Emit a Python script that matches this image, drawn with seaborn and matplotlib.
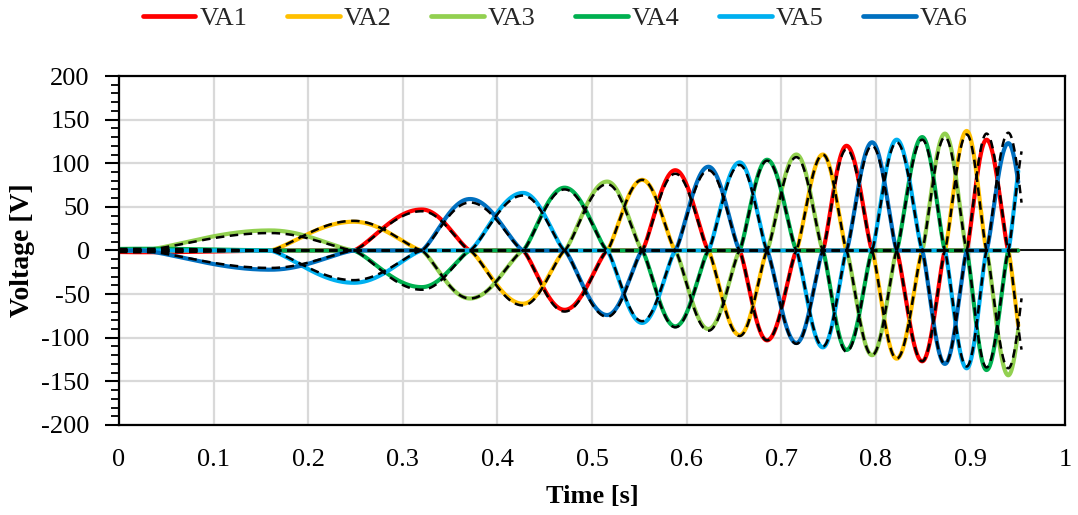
import numpy as np
import pandas as pd
import matplotlib
matplotlib.use("Agg")
import matplotlib.pyplot as plt
import seaborn as sns
from matplotlib.ticker import MultipleLocator

# Phase names and colours
phases = ["VA1", "VA2", "VA3", "VA4", "VA5", "VA6"]
colors = ["#FF0000", "#FFC000", "#92D050", "#00B050", "#00B0F0", "#0070C0"]

# Commutation steps: time of each lobe peak [s]
step_time = [-0.060, 0.025, 0.160, 0.248, 0.320, 0.371, 0.427, 0.471, 0.516,
             0.553, 0.588, 0.623, 0.656, 0.685, 0.716, 0.744, 0.769, 0.796,
             0.822, 0.849, 0.873, 0.896, 0.917, 0.940, 0.961, 0.982]
# Phase carrying the positive lobe / negative lobe at each step
pos_phase = ["VA5", "VA4", "VA3", "VA2", "VA1", "VA6", "VA5", "VA4", "VA3",
             "VA2", "VA1", "VA6", "VA5", "VA4", "VA3", "VA2", "VA1", "VA6",
             "VA5", "VA4", "VA3", "VA2", "VA1", "VA6", "VA5", "VA4"]
neg_phase = ["VA2", "VA1", "VA6", "VA5", "VA4", "VA3", "VA2", "VA1", "VA6",
             "VA5", "VA4", "VA3", "VA2", "VA1", "VA6", "VA5", "VA4", "VA3",
             "VA2", "VA1", "VA6", "VA5", "VA4", "VA3", "VA2", "VA1"]
# Measured peak voltages [V]
pos_peak = [0, 2, 23, 33, 47, 59, 66, 72, 79,
            81, 92, 96, 101, 104, 110, 110, 120, 124,
            127, 130, 134, 137, 127, 123, 143, 140]
neg_peak = [0, -2, -22, -37, -42, -55, -61, -68, -74,
            -83, -87, -90, -97, -103, -106, -111, -114, -120,
            -124, -127, -130, -135, -137, -143, -135, -140]
# Reference (model) peak voltage magnitudes [V]
ref_peak = [0, 2, 20, 34, 45, 55, 63, 70, 76,
            81, 88, 92, 98, 103, 107, 110, 116, 120,
            124, 127, 130, 133, 134, 135, 137, 138]

measured_end = 0.9505
reference_end = 0.954

x_ticks = [0, 0.1, 0.2, 0.3, 0.4, 0.5, 0.6, 0.7, 0.8, 0.9, 1.0]
x_tick_labels = ["0", "0.1", "0.2", "0.3", "0.4", "0.5", "0.6", "0.7", "0.8", "0.9", "1"]
y_ticks = [-200, -150, -100, -50, 0, 50, 100, 150, 200]


def lobe(t, t0, t1, t2, p=1.3):
    """Unit lobe rising from t0, peaking at t1 and returning to zero at t2."""
    y = np.zeros_like(t)
    left = (t >= t0) & (t <= t1)
    y[left] = np.sin(0.5 * np.pi * (t[left] - t0) / (t1 - t0)) ** p
    right = (t > t1) & (t <= t2)
    y[right] = np.cos(0.5 * np.pi * (t[right] - t1) / (t2 - t1)) ** p
    return y


def phase_waves(t, pos_amp, neg_amp):
    waves = {ph: np.zeros_like(t) for ph in phases}
    for k in range(1, len(step_time) - 1):
        shape = lobe(t, step_time[k - 1], step_time[k], step_time[k + 1])
        waves[pos_phase[k]] += pos_amp[k] * shape
        waves[neg_phase[k]] += neg_amp[k] * shape
    return waves


def to_frame(t, waves):
    return pd.concat(
        [pd.DataFrame({"Time": t, "Voltage": waves[ph], "Phase": ph}) for ph in phases],
        ignore_index=True,
    )


t_meas = np.linspace(0, measured_end, 2400)
t_ref = np.linspace(0, reference_end, 2400)
measured = to_frame(t_meas, phase_waves(t_meas, pos_peak, neg_peak))
reference = to_frame(t_ref, phase_waves(t_ref, ref_peak, [-a for a in ref_peak]))

sns.set_theme(style="white")
plt.rcParams["font.family"] = ["Liberation Serif", "DejaVu Serif"]
plt.rcParams["axes.unicode_minus"] = False
FS = 19

fig = plt.figure(figsize=(10.78, 5.15), dpi=100)
ax = fig.add_axes([0.1104, 0.1748, 0.8776, 0.6776])

ax.axhline(0, color="black", lw=1.3, zorder=1)

sns.lineplot(data=measured, x="Time", y="Voltage", hue="Phase",
             palette=dict(zip(phases, colors)), hue_order=phases,
             estimator=None, sort=False, lw=3.0, ax=ax, zorder=2)
sns.lineplot(data=reference, x="Time", y="Voltage", units="Phase",
             estimator=None, sort=False, color="black", lw=1.8,
             linestyle=(0, (3.4, 2.2)), legend=False, ax=ax, zorder=3)

handles, labels = ax.get_legend_handles_labels()
ax.get_legend().remove()
for h in handles:
    h.set_linewidth(3.4)
fig.legend(handles, labels, ncol=6, loc="center", bbox_to_anchor=(0.515, 0.964),
           frameon=False, fontsize=FS, handlelength=2.0, handletextpad=0.15,
           columnspacing=1.5)

ax.set_xlim(0, 1)
ax.set_ylim(-200, 200)
ax.set_xticks(x_ticks)
ax.set_xticklabels(x_tick_labels)
ax.set_yticks(y_ticks)
ax.set_yticklabels([str(v) for v in y_ticks])
ax.yaxis.set_minor_locator(MultipleLocator(10))
ax.tick_params(axis="x", length=0, labelsize=FS, pad=17, colors="black")
ax.tick_params(axis="y", which="major", direction="out", length=10, width=1.5,
               labelsize=FS, pad=11, colors="black", left=True)
ax.tick_params(axis="y", which="minor", direction="out", length=6, width=1.3,
               colors="black", left=True)

ax.grid(True, which="major", color="#D9D9D9", lw=1.6)
ax.set_axisbelow(True)
for side in ["left", "bottom", "top", "right"]:
    ax.spines[side].set_visible(True)
    ax.spines[side].set_color("black")
    ax.spines[side].set_linewidth(1.6)

ax.set_xlabel("Time [s]", fontsize=FS, fontweight="bold", color="black")
ax.set_ylabel("Voltage [V]", fontsize=FS + 1, fontweight="bold", color="black")
ax.xaxis.set_label_coords(0.5, -0.172)
ax.yaxis.set_label_coords(-0.089, 0.5)

fig.savefig("out.png", dpi=100)
